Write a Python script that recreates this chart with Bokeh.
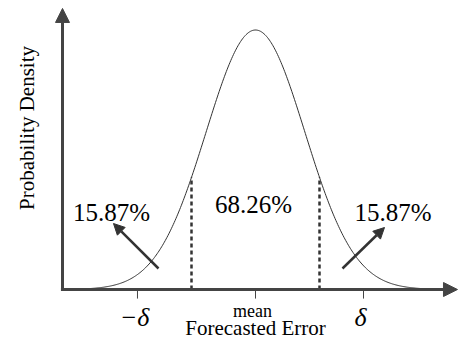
import numpy as np
from bokeh.plotting import figure
from bokeh.models import Range1d, Arrow, NormalHead
from bokeh.core.properties import value
from bokeh.embed import file_html
from bokeh.resources import INLINE

# ---- data (x in units of delta, density normalised to peak = 1) ----
curve_mean = 0.0
curve_sd = 0.772
curve_extent = 2.8
boundaries = [-1.0, 1.0]                 # +/- delta limits (dashed lines)
region_labels = ["15.87%", "68.26%", "15.87%"]
region_x = [-2.25, -0.03, 2.148]
region_y = [0.2967, 0.3276, 0.2967]
tick_pos = [-1.844, 0.0, 1.6875]
tick_labels = ["\u2212\u03b4", "mean", "\u03b4"]
x_title = "Forecasted Error"
y_title = "Probability Density"

FONT = value("Liberation Serif")
AX = "#444444"

xs = np.linspace(curve_mean - curve_extent, curve_mean + curve_extent, 400)
ys = np.exp(-0.5 * ((xs - curve_mean) / curve_sd) ** 2)
b = np.array(boundaries)
b_top = np.exp(-0.5 * ((b - curve_mean) / curve_sd) ** 2)

p = figure(width=458, height=340, output_backend="svg", toolbar_location=None,
           x_axis_location=None, y_axis_location=None, min_border=0,
           x_range=Range1d(-3.984375, 3.171875), y_range=Range1d(-0.19653, 1.11368))
p.outline_line_color = None
p.xgrid.visible = False
p.ygrid.visible = False
p.background_fill_color = "white"

# axes with arrowheads
p.add_layout(Arrow(end=NormalHead(size=14, fill_color=AX, line_color=AX),
                   x_start=-3.04, y_start=0, x_end=3.156, y_end=0,
                   line_width=3, line_color=AX))
p.add_layout(Arrow(end=NormalHead(size=14, fill_color=AX, line_color=AX),
                   x_start=-3.0156, y_start=-0.006, x_end=-3.0156, y_end=1.083,
                   line_width=3, line_color=AX))

# ticks
p.segment(x0=tick_pos, y0=[0] * 3, x1=tick_pos, y1=[-0.035] * 3,
          line_color=AX, line_width=1)

# curve
p.line(xs, ys, line_color="#333333", line_width=1)

# dashed boundaries
p.segment(x0=b, y0=[0, 0], x1=b, y1=b_top, line_color="#333333",
          line_width=2.5, line_dash="4 3")

# small arrows
for (x0, y0, x1, y1) in [(-1.5156, 0.0809, -2.219, 0.2543),
                         (1.359, 0.0809, 2.0156, 0.2389)]:
    p.add_layout(Arrow(end=NormalHead(size=11, fill_color="#333333", line_color="#333333"),
                       x_start=x0, y_start=y0, x_end=x1, y_end=y1,
                       line_width=2.5, line_color="#333333"))

# region labels
p.text(x=region_x, y=region_y, text=region_labels, text_font=FONT,
       text_font_size="25px", text_align="center", text_baseline="alphabetic",
       text_color="black")

# tick labels
p.text(x=[tick_pos[0], tick_pos[2]], y=[-0.108, -0.108],
       text=[tick_labels[0], tick_labels[2]], text_font=FONT,
       text_font_size="26px", text_font_style="italic", text_align="center",
       text_baseline="alphabetic", x_offset=-3, text_color="black")
p.text(x=[tick_pos[1]], y=[-0.0828], text=[tick_labels[1]], text_font=FONT,
       text_font_size="18px", text_align="center", text_baseline="alphabetic",
       x_offset=-3, text_color="black")

# axis titles
p.text(x=[0.0], y=[-0.150], text=[x_title], text_font=FONT,
       text_font_size="21px", text_align="center", text_baseline="alphabetic",
       text_color="black")
p.text(x=[-3.578], y=[0.6224], text=[y_title], text_font=FONT,
       text_font_size="21px", text_align="center", text_baseline="alphabetic",
       angle=np.pi / 2, text_color="black")

open("out.html", "w").write(file_html(p, INLINE))
